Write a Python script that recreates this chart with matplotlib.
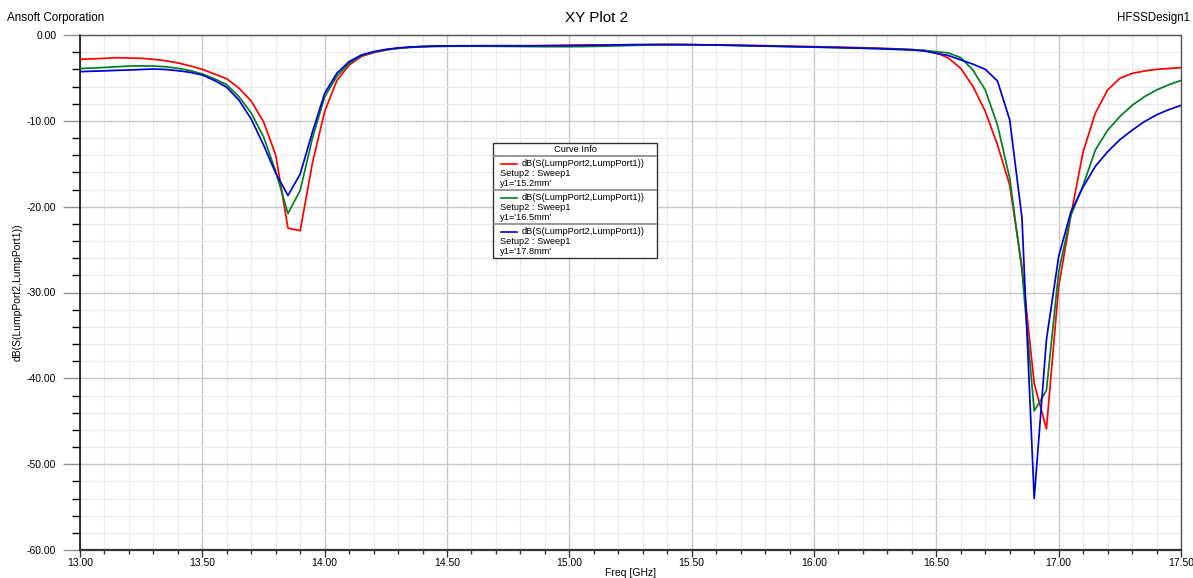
import numpy as np
import matplotlib
matplotlib.use("Agg")
import matplotlib.pyplot as plt
from matplotlib.patches import Rectangle
from matplotlib.lines import Line2D
from matplotlib.ticker import MultipleLocator, FormatStrFormatter

plt.rcParams['font.family'] = ['Liberation Sans', 'DejaVu Sans']

# sweep points, 13.00 .. 17.50 GHz in 0.05 GHz steps
freq = np.linspace(13.0, 17.5, 91)

# dB(S(LumpPort2,LumpPort1)), y1 = 15.2mm
s21_152 = [
    -2.83, -2.78, -2.72, -2.64, -2.68, -2.72, -2.83, -3.00, -3.25, -3.60,
    -4.00, -4.55, -5.10, -6.20, -7.70, -10.10, -14.00, -22.50, -22.80, -14.90,
    -8.90, -5.30, -3.50, -2.50, -2.06, -1.75, -1.55, -1.42, -1.35, -1.30,
    -1.28, -1.27, -1.26, -1.25, -1.25, -1.25, -1.25, -1.25, -1.24, -1.22,
    -1.20, -1.18, -1.17, -1.16, -1.15, -1.14, -1.13, -1.12, -1.12, -1.12,
    -1.13, -1.14, -1.16, -1.18, -1.20, -1.22, -1.24, -1.27, -1.30, -1.33,
    -1.36, -1.39, -1.42, -1.45, -1.49, -1.53, -1.58, -1.63, -1.70, -1.80,
    -2.06, -2.70, -3.90, -6.00, -8.90, -12.80, -17.50, -27.00, -40.60, -45.90,
    -29.30, -21.00, -13.60, -9.10, -6.40, -5.05, -4.47, -4.20, -4.00, -3.90,
    -3.80,
]

# y1 = 16.5mm
s21_165 = [
    -3.90, -3.85, -3.78, -3.70, -3.62, -3.60, -3.62, -3.70, -3.88, -4.15,
    -4.54, -5.10, -5.80, -7.20, -9.10, -11.85, -15.90, -20.80, -18.10, -12.00,
    -7.20, -4.80, -3.30, -2.40, -2.00, -1.72, -1.55, -1.45, -1.38, -1.34,
    -1.32, -1.31, -1.31, -1.31, -1.32, -1.33, -1.34, -1.35, -1.36, -1.36,
    -1.36, -1.35, -1.33, -1.30, -1.26, -1.22, -1.18, -1.15, -1.13, -1.12,
    -1.13, -1.15, -1.18, -1.21, -1.24, -1.27, -1.30, -1.33, -1.36, -1.39,
    -1.42, -1.45, -1.48, -1.51, -1.54, -1.57, -1.60, -1.63, -1.70, -1.80,
    -1.94, -2.10, -2.64, -4.10, -6.40, -10.50, -16.70, -27.50, -43.80, -41.40,
    -27.60, -21.00, -17.50, -13.40, -11.10, -9.50, -8.20, -7.20, -6.40, -5.80,
    -5.30,
]

# y1 = 17.8mm
s21_178 = [
    -4.27, -4.22, -4.18, -4.12, -4.08, -4.02, -3.96, -4.02, -4.16, -4.35,
    -4.66, -5.30, -6.10, -7.60, -9.80, -12.80, -16.10, -18.70, -16.20, -11.30,
    -6.80, -4.45, -3.10, -2.33, -1.94, -1.68, -1.50, -1.40, -1.33, -1.29,
    -1.27, -1.26, -1.26, -1.26, -1.26, -1.26, -1.26, -1.26, -1.25, -1.24,
    -1.23, -1.21, -1.19, -1.17, -1.15, -1.13, -1.12, -1.11, -1.11, -1.12,
    -1.13, -1.15, -1.17, -1.19, -1.22, -1.25, -1.28, -1.31, -1.34, -1.37,
    -1.40, -1.43, -1.46, -1.50, -1.54, -1.58, -1.63, -1.70, -1.75, -1.86,
    -2.14, -2.40, -2.90, -3.40, -4.00, -5.36, -9.90, -21.30, -54.00, -35.50,
    -25.80, -20.60, -17.70, -15.30, -13.60, -12.20, -11.10, -10.10, -9.30, -8.70,
    -8.20,
]

curves = [s21_152, s21_165, s21_178]
sizes = ["15.2mm", "16.5mm", "17.8mm"]
colors = ["#ff0000", "#008020", "#0000e0"]
trace = "dB(S(LumpPort2,LumpPort1))"

W, H = 1193, 578
fig = plt.figure(figsize=(W / 100, H / 100), dpi=100)
ax = fig.add_axes([80 / W, 28 / H, 1101 / W, 515 / H])

for vals, c in zip(curves, colors):
    ax.plot(freq, vals, color=c, lw=1.25, zorder=3)

ax.set_xlim(13.0, 17.5)
ax.set_ylim(-60, 0)
ax.xaxis.set_major_locator(MultipleLocator(0.5))
ax.xaxis.set_minor_locator(MultipleLocator(0.1))
ax.yaxis.set_major_locator(MultipleLocator(10))
ax.yaxis.set_minor_locator(MultipleLocator(2))
ax.xaxis.set_major_formatter(FormatStrFormatter("%.2f"))
ax.yaxis.set_major_formatter(FormatStrFormatter("%.2f"))

ax.grid(which="major", color="#c8c8c8", lw=1.0, zorder=0)
ax.grid(which="minor", color="#ebebeb", lw=0.9, zorder=0)
ax.set_axisbelow(True)

ax.tick_params(axis="y", which="major", direction="out", length=12, width=1.0,
               color="#909090", labelsize=7.5, pad=5)
ax.tick_params(axis="y", which="minor", direction="out", length=6, width=1.0,
               color="black")
ax.tick_params(axis="x", which="major", direction="out", length=5, width=1.0,
               color="#333333", labelsize=7.5, pad=1)
ax.tick_params(axis="x", which="minor", direction="out", length=3, width=1.0,
               color="#333333")

ax.spines["left"].set_color("black")
ax.spines["left"].set_linewidth(1.1)
ax.spines["bottom"].set_color("#333333")
ax.spines["bottom"].set_linewidth(1.6)
for s in ("top", "right"):
    ax.spines[s].set_color("#555555")
    ax.spines[s].set_linewidth(1.0)

ax.set_xlabel("Freq [GHz]", fontsize=7.5, labelpad=0)
ax.set_ylabel(trace, fontsize=7.5, labelpad=3)

# header texts
fig.text(7 / W, 1 - 18 / H, "Ansoft Corporation", fontsize=8.4, ha="left", va="center")
fig.text(597 / W, 1 - 18 / H, "XY Plot 2", fontsize=11, ha="center", va="center")
fig.text(1190 / W, 1 - 18 / H, "HFSSDesign1", fontsize=8.3, ha="right", va="center")


def fp(x, y):
    return (x / W, 1 - y / H)


# "Curve Info" box
bx0, bx1, by0, by1 = 493, 657, 143, 258
fig.add_artist(Rectangle(fp(bx0, by1), (bx1 - bx0) / W, (by1 - by0) / H,
                         transform=fig.transFigure, facecolor="white",
                         edgecolor="#333333", lw=1.0, zorder=5))
fig.text(575 / W, 1 - 149.5 / H, "Curve Info", fontsize=6.7, ha="center",
         va="center", zorder=6)
for ys in (156, 190, 224):
    fig.add_artist(Line2D([(bx0 + 1) / W, (bx1 - 1) / W], [1 - ys / H] * 2,
                          transform=fig.transFigure, color="#888888", lw=1.2,
                          zorder=6))
for i, (c, sz) in enumerate(zip(colors, sizes)):
    y0 = 164 + i * 34
    fig.add_artist(Line2D([501 / W, 517 / W], [1 - y0 / H] * 2,
                          transform=fig.transFigure, color=c, lw=1.2, zorder=6))
    fig.text(522 / W, 1 - y0 / H, trace, fontsize=6.7, ha="left", va="center", zorder=6)
    fig.text(500 / W, 1 - (y0 + 9.5) / H, "Setup2 : Sweep1", fontsize=6.7,
             ha="left", va="center", zorder=6)
    fig.text(500 / W, 1 - (y0 + 19) / H, "y1='" + sz + "'", fontsize=6.7,
             ha="left", va="center", zorder=6)

fig.savefig("out.png", dpi=100)
